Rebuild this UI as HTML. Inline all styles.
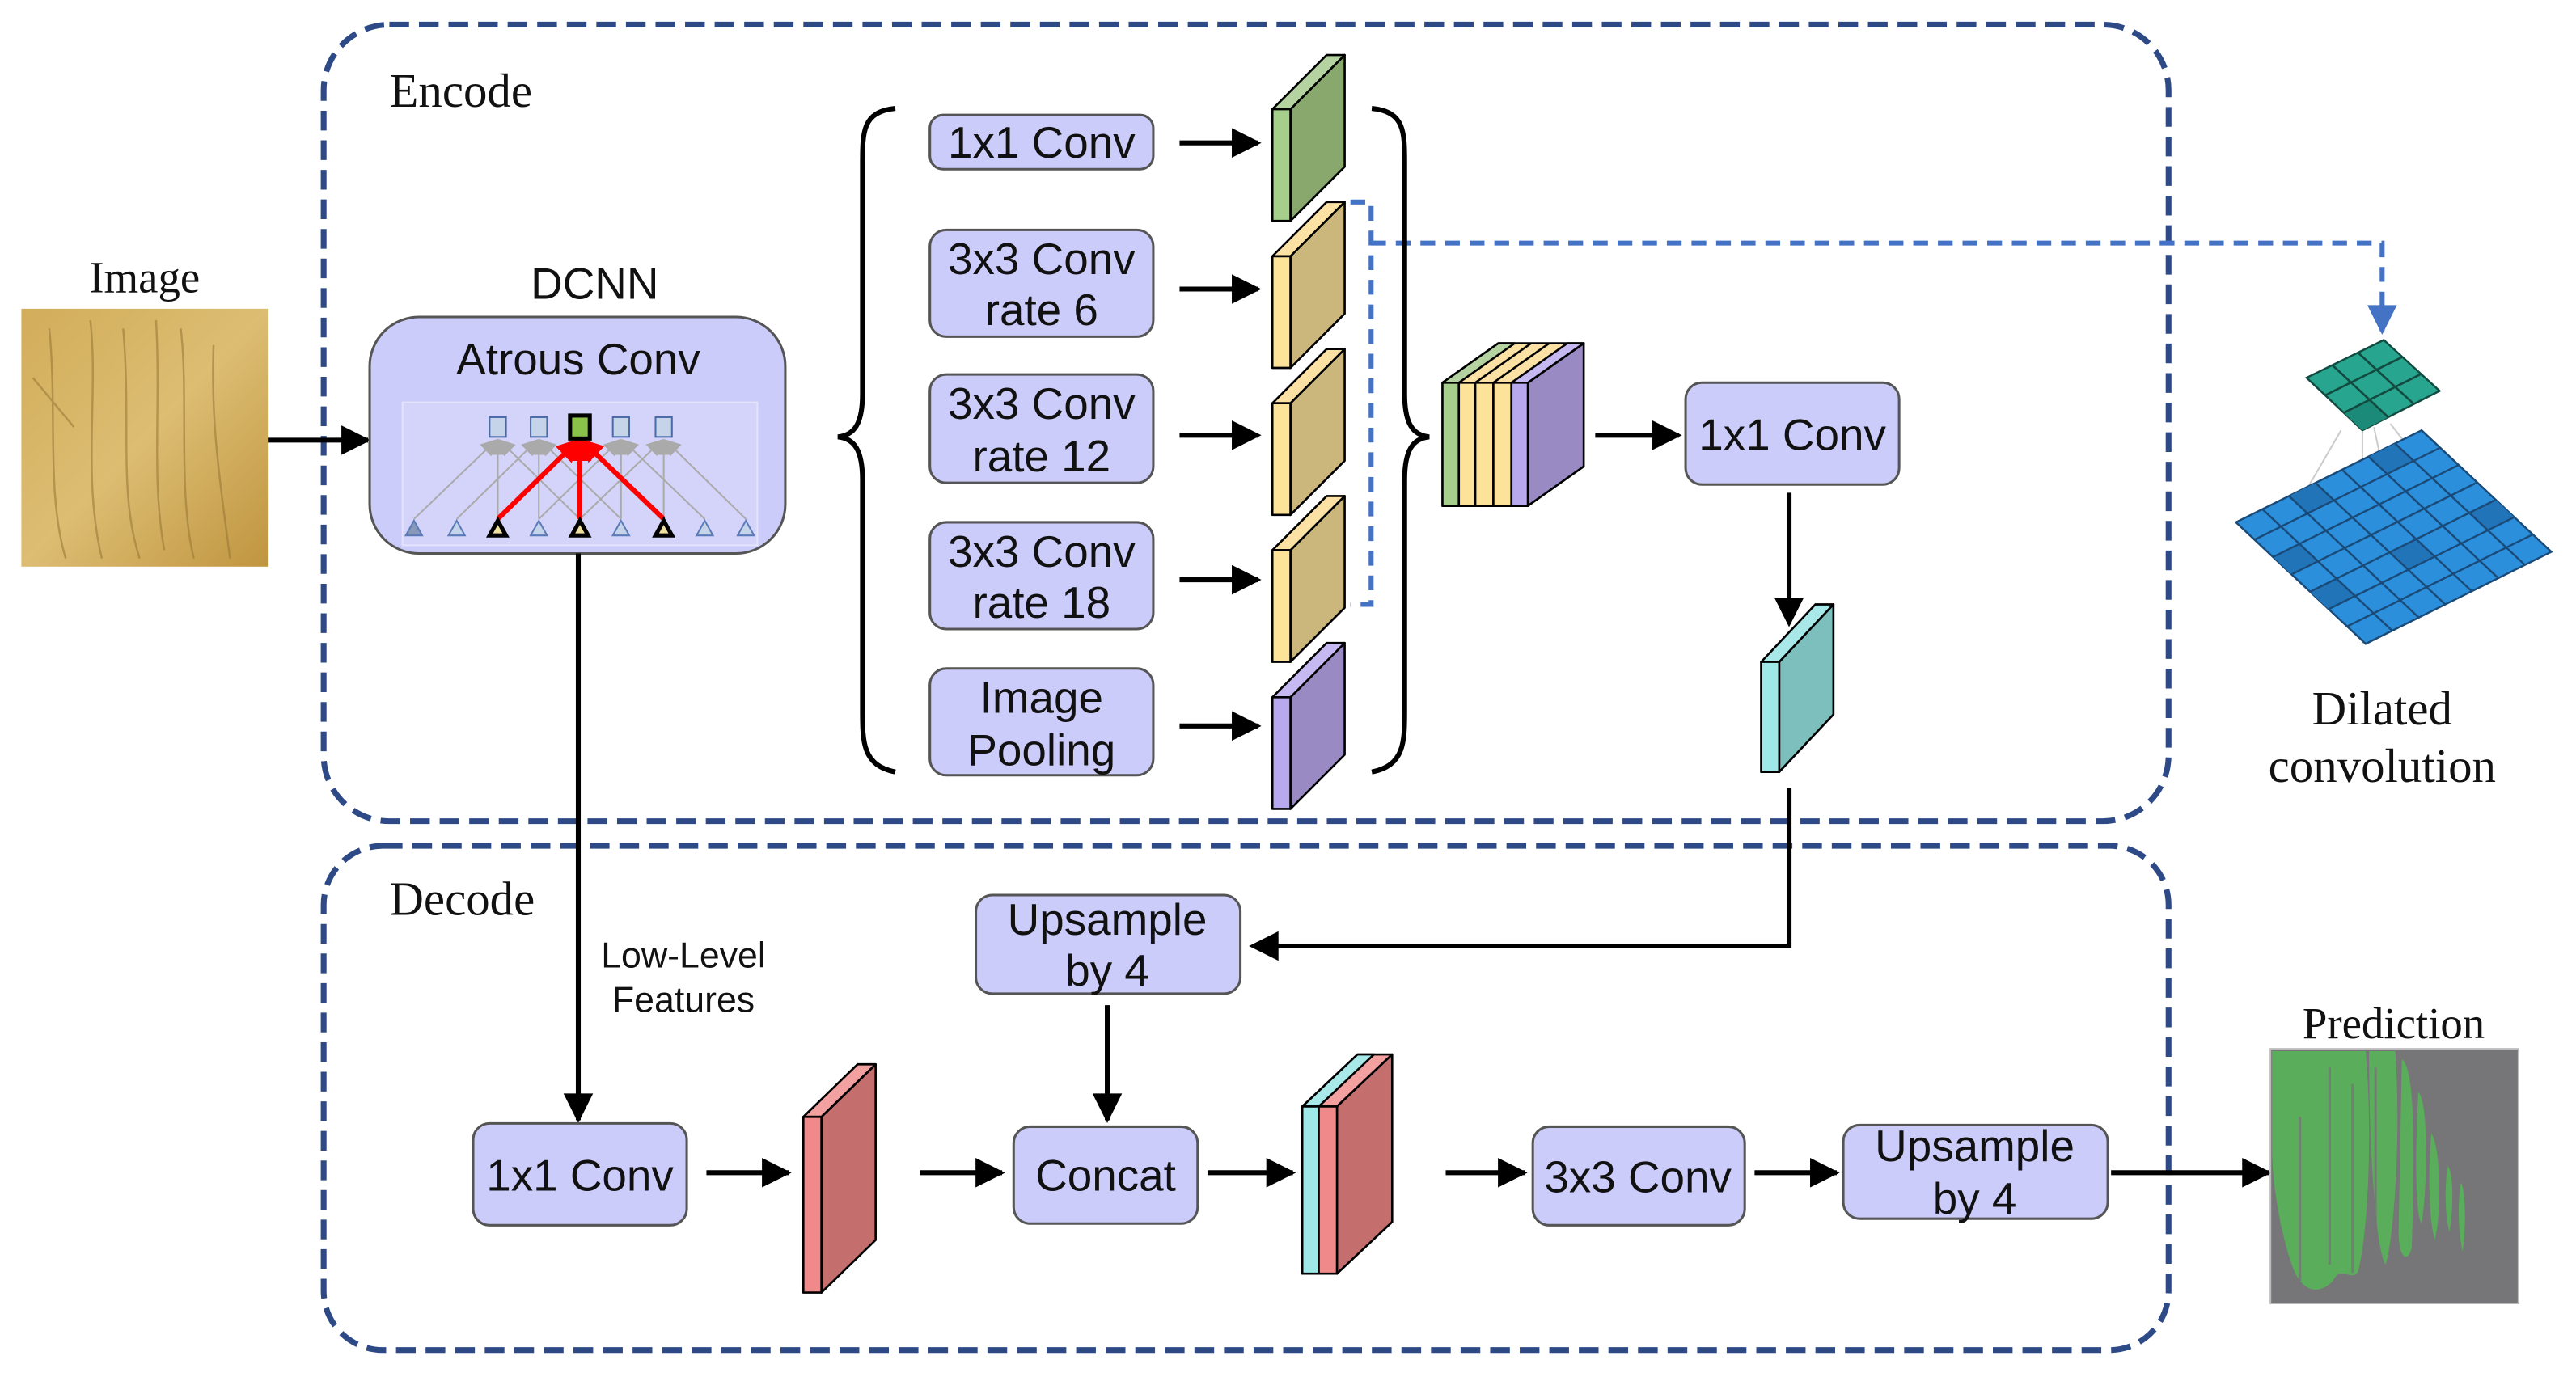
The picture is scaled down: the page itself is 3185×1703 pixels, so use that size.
<!DOCTYPE html>
<html><head><meta charset="utf-8"><style>
html,body{margin:0;padding:0;background:#fff;}
svg{display:block;}
.s{font-family:"Liberation Sans",sans-serif;fill:#111;}
.r{font-family:"Liberation Serif",serif;fill:#111;}
</style></head><body>
<svg width="3185" height="1703" viewBox="0 0 1568 838.4" preserveAspectRatio="none" xmlns="http://www.w3.org/2000/svg">
<defs>
<marker id="ah" viewBox="0 0 10 10" markerWidth="22" markerHeight="18" refX="9" refY="5" orient="auto" markerUnits="userSpaceOnUse"><path d="M0,0 L10,5 L0,10 Z" fill="#000"/></marker>
<marker id="bh" viewBox="0 0 10 10" markerWidth="20" markerHeight="18" refX="9" refY="5" orient="auto" markerUnits="userSpaceOnUse"><path d="M0,0 L10,5 L0,10 Z" fill="#4472c4"/></marker>
<marker id="gh" viewBox="0 0 10 10" markerWidth="10" markerHeight="10" refX="9" refY="5" orient="auto" markerUnits="userSpaceOnUse"><path d="M0,0 L10,5 L0,10 Z" fill="#aaa"/></marker>
<marker id="rh" viewBox="0 0 10 10" markerWidth="14" markerHeight="14" refX="9" refY="5" orient="auto" markerUnits="userSpaceOnUse"><path d="M0,0 L10,5 L0,10 Z" fill="#f00"/></marker>
<linearGradient id="gold" x1="0" y1="0" x2="1" y2="1">
<stop offset="0" stop-color="#d2ad5a"/><stop offset="0.5" stop-color="#dcbd72"/><stop offset="1" stop-color="#c09540"/></linearGradient>
</defs>

<rect x="197" y="15" width="1123" height="485" rx="40" fill="none" stroke="#2e4a86" stroke-width="3.5" stroke-dasharray="12,6"/>
<rect x="197" y="515" width="1123" height="307" rx="36" fill="none" stroke="#2e4a86" stroke-width="3.5" stroke-dasharray="12,6"/>
<text class="r" x="237" y="65" font-size="29">Encode</text>
<text class="r" x="237" y="557" font-size="29">Decode</text>

<text class="r" x="88" y="178" font-size="27" text-anchor="middle">Image</text>
<rect x="13" y="188" width="150" height="157" fill="url(#gold)"/>
<g stroke="#9a7a38" stroke-width="1.2" fill="none" opacity="0.6">
<path d="M30,200 C35,250 28,300 40,340"/><path d="M55,195 C60,240 50,290 62,340"/><path d="M75,200 C80,260 72,300 85,340"/>
<path d="M95,195 C98,250 92,290 100,335"/><path d="M110,200 C115,240 108,300 118,340"/><path d="M20,230 L45,260"/><path d="M130,210 C128,260 135,300 140,340"/>
</g>
<line x1="163" y1="268" x2="224" y2="268" stroke="#000" stroke-width="3" marker-end="url(#ah)"/>

<text class="s" x="362" y="182" font-size="27" text-anchor="middle">DCNN</text>
<rect x="225" y="193" width="253" height="144" rx="30" fill="#ccccfa" stroke="#555" stroke-width="1.5"/>
<text class="s" x="352" y="228" font-size="27" text-anchor="middle">Atrous Conv</text>
<rect x="245" y="245" width="216" height="87" fill="#d4d4fb" stroke="#e4e4fc" stroke-width="1"/>
<g stroke="#aaa" stroke-width="1" marker-end="url(#gh)">
<line x1="252" y1="316" x2="302" y2="268"/><line x1="303" y1="316" x2="303" y2="268"/><line x1="353" y1="316" x2="304" y2="268"/>
<line x1="278" y1="316" x2="327" y2="268"/><line x1="328" y1="316" x2="328" y2="268"/><line x1="378" y1="316" x2="329" y2="268"/>
<line x1="328" y1="316" x2="377" y2="268"/><line x1="378" y1="316" x2="378" y2="268"/><line x1="429" y1="316" x2="379" y2="268"/>
<line x1="353" y1="316" x2="403" y2="268"/><line x1="404" y1="316" x2="404" y2="268"/><line x1="454" y1="316" x2="405" y2="268"/>
</g>
<g stroke="#f00" stroke-width="3" marker-end="url(#rh)">
<line x1="303" y1="316" x2="352" y2="268"/><line x1="353" y1="316" x2="353" y2="268"/><line x1="404" y1="316" x2="354" y2="268"/>
</g>
<g fill="#c6d4ea" stroke="#4a6aa8" stroke-width="1">
<rect x="298" y="254" width="10" height="12"/><rect x="323" y="254" width="10" height="12"/><rect x="373" y="254" width="10" height="12"/><rect x="399" y="254" width="10" height="12"/>
</g>
<rect x="347" y="253" width="12" height="14" fill="#8bc34a" stroke="#000" stroke-width="2.5"/>
<g fill="#c6d4ea" stroke="#5a7ab8" stroke-width="1">
<path d="M252,317 l-5,9 h10z" fill="#8898b8"/><path d="M278,317 l-5,9 h10z"/><path d="M328,317 l-5,9 h10z"/><path d="M378,317 l-5,9 h10z"/><path d="M429,317 l-5,9 h10z"/><path d="M454,317 l-5,9 h10z"/>
</g>
<g fill="#f0e0a0" stroke="#000" stroke-width="2.5">
<path d="M303,317 l-5,9 h10z"/><path d="M353,317 l-5,9 h10z"/><path d="M404,317 l-5,9 h10z"/>
</g>

<line x1="352" y1="337" x2="352" y2="682" stroke="#000" stroke-width="3" marker-end="url(#ah)"/>
<text class="s" x="416" y="589" font-size="22" text-anchor="middle" fill="#223">Low-Level</text>
<text class="s" x="416" y="616" font-size="22" text-anchor="middle" fill="#223">Features</text>

<path d="M545,66 C525,68 525,80 525,100 L525,240 C525,258 520,265 510,266 C520,267 525,274 525,292 L525,432 C525,452 525,466 545,470" fill="none" stroke="#000" stroke-width="3"/>

<g fill="#ccccfa" stroke="#555" stroke-width="1.5">
<rect x="566" y="70" width="136" height="33" rx="8"/>
<rect x="566" y="140" width="136" height="65" rx="10"/>
<rect x="566" y="228" width="136" height="66" rx="10"/>
<rect x="566" y="318" width="136" height="65" rx="10"/>
<rect x="566" y="407" width="136" height="65" rx="10"/>
</g>
<g class="s" font-size="27" text-anchor="middle">
<text x="634" y="96">1x1 Conv</text>
<text x="634" y="167">3x3 Conv</text><text x="634" y="198">rate 6</text>
<text x="634" y="255">3x3 Conv</text><text x="634" y="287">rate 12</text>
<text x="634" y="345">3x3 Conv</text><text x="634" y="376">rate 18</text>
<text x="634" y="434">Image</text><text x="634" y="466">Pooling</text>
</g>
<g stroke="#000" stroke-width="3" marker-end="url(#ah)">
<line x1="718" y1="87" x2="766" y2="87"/><line x1="718" y1="176" x2="766" y2="176"/><line x1="718" y1="265" x2="766" y2="265"/><line x1="718" y1="353" x2="766" y2="353"/><line x1="718" y1="442" x2="766" y2="442"/>
</g>

<g stroke="#000" stroke-width="1.3" stroke-linejoin="round">
<g>
<path d="M785.5,66.5 l33,-33 v68 l-33,33z" fill="#89a86e"/><path d="M774.5,66.5 l33,-33 h11 l-33,33z" fill="#b5d3a0"/><rect x="774.5" y="66.5" width="11" height="68" fill="#a6cf8c"/>
</g>
<g transform="translate(0,89.5)">
<path d="M785.5,66.5 l33,-33 v68 l-33,33z" fill="#cbb77c"/><path d="M774.5,66.5 l33,-33 h11 l-33,33z" fill="#fbe2a4"/><rect x="774.5" y="66.5" width="11" height="68" fill="#fde29a"/>
</g>
<g transform="translate(0,179)">
<path d="M785.5,66.5 l33,-33 v68 l-33,33z" fill="#cbb77c"/><path d="M774.5,66.5 l33,-33 h11 l-33,33z" fill="#fbe2a4"/><rect x="774.5" y="66.5" width="11" height="68" fill="#fde29a"/>
</g>
<g transform="translate(0,268.5)">
<path d="M785.5,66.5 l33,-33 v68 l-33,33z" fill="#cbb77c"/><path d="M774.5,66.5 l33,-33 h11 l-33,33z" fill="#fbe2a4"/><rect x="774.5" y="66.5" width="11" height="68" fill="#fde29a"/>
</g>
<g transform="translate(0,358)">
<path d="M785.5,66.5 l33,-33 v68 l-33,33z" fill="#9a8ac4"/><path d="M774.5,66.5 l33,-33 h11 l-33,33z" fill="#c6b8f0"/><rect x="774.5" y="66.5" width="11" height="68" fill="#b8a8ee"/>
</g>
</g>

<path d="M822,123 H834.6 V368 H822" fill="none" stroke="#4472c4" stroke-width="3" stroke-dasharray="9,6"/>
<path d="M834.6,148 H1450 V202" fill="none" stroke="#4472c4" stroke-width="3" stroke-dasharray="9,6" marker-end="url(#bh)"/>

<path d="M835,66 C855,68 855,80 855,100 L855,240 C855,258 860,265 870,266 C860,267 855,274 855,292 L855,432 C855,452 855,466 835,470" fill="none" stroke="#000" stroke-width="3"/>

<g stroke="#000" stroke-width="1.3" stroke-linejoin="round">
<path d="M930,233 l34,-24 v75 l-34,24z" fill="#9a8ac4"/>
<path d="M878,233 l34,-24 h52 l-34,24z" fill="#fbe2a4"/>
<path d="M878,233 l34,-24 h10 l-34,24z" fill="#b5d3a0"/>
<path d="M920,233 l34,-24 h10 l-34,24z" fill="#c6b8f0"/>
<line x1="898" y1="233" x2="932" y2="209"/><line x1="909" y1="233" x2="943" y2="209"/>
<rect x="878" y="233" width="10" height="75" fill="#a6cf8c"/>
<rect x="888" y="233" width="10" height="75" fill="#fde29a"/>
<rect x="898" y="233" width="11" height="75" fill="#fde29a"/>
<rect x="909" y="233" width="11" height="75" fill="#fde29a"/>
<rect x="920" y="233" width="10" height="75" fill="#b8a8ee"/>
</g>
<line x1="971" y1="265" x2="1022" y2="265" stroke="#000" stroke-width="3" marker-end="url(#ah)"/>
<rect x="1026" y="233" width="130" height="62" rx="10" fill="#ccccfa" stroke="#555" stroke-width="1.5"/>
<text class="s" x="1091" y="274" font-size="27" text-anchor="middle">1x1 Conv</text>
<line x1="1089" y1="300" x2="1089" y2="380" stroke="#000" stroke-width="3" marker-end="url(#ah)"/>

<g stroke="#000" stroke-width="1.3" stroke-linejoin="round">
<path d="M1083,403 l33,-35 v67 l-33,35z" fill="#7cbfbd"/>
<path d="M1072,403 l33,-35 h11 l-33,35z" fill="#a8e8e8"/>
<rect x="1072" y="403" width="11" height="67" fill="#9ee8e8"/>
</g>

<path d="M1089,480 V576 H762" fill="none" stroke="#000" stroke-width="3" marker-end="url(#ah)"/>
<rect x="594" y="545" width="161" height="60" rx="10" fill="#ccccfa" stroke="#555" stroke-width="1.5"/>
<text class="s" x="674" y="569" font-size="27" text-anchor="middle">Upsample</text>
<text class="s" x="674" y="600" font-size="27" text-anchor="middle">by 4</text>
<line x1="674" y1="612" x2="674" y2="682" stroke="#000" stroke-width="3" marker-end="url(#ah)"/>

<rect x="288" y="684" width="130" height="62" rx="10" fill="#ccccfa" stroke="#555" stroke-width="1.5"/>
<text class="s" x="353" y="725" font-size="27" text-anchor="middle">1x1 Conv</text>
<g stroke="#000" stroke-width="3" marker-end="url(#ah)">
<line x1="430" y1="714" x2="480" y2="714"/>
<line x1="560" y1="714" x2="610" y2="714"/>
<line x1="735" y1="714" x2="787" y2="714"/>
<line x1="880" y1="714" x2="928" y2="714"/>
<line x1="1068" y1="714" x2="1118" y2="714"/>
<line x1="1285" y1="714" x2="1381" y2="714"/>
</g>
<g stroke="#000" stroke-width="1.3" stroke-linejoin="round">
<path d="M500,680 l33,-32 v107 l-33,32z" fill="#c46e6e"/>
<path d="M489,680 l33,-32 h11 l-33,32z" fill="#f2a0a0"/>
<rect x="489" y="680" width="11" height="107" fill="#f08a8a"/>
</g>
<rect x="617" y="686" width="112" height="59" rx="10" fill="#ccccfa" stroke="#555" stroke-width="1.5"/>
<text class="s" x="673" y="725" font-size="27" text-anchor="middle">Concat</text>
<g stroke="#000" stroke-width="1.3" stroke-linejoin="round">
<path d="M813.8,673.7 l33.6,-31.7 v102 l-33.6,31.5z" fill="#c46e6e"/>
<path d="M792.7,673.7 l33.6,-31.7 h21 l-33.6,31.7z" fill="#f2a0a0"/>
<path d="M792.7,673.7 l33.6,-31.7 h10 l-33.6,31.7z" fill="#a8e8e8"/>
<rect x="792.7" y="673.7" width="10" height="101.8" fill="#9ee8e8"/>
<rect x="802.7" y="673.7" width="11.1" height="101.8" fill="#f08a8a"/>
</g>
<rect x="933" y="686" width="129" height="60" rx="10" fill="#ccccfa" stroke="#555" stroke-width="1.5"/>
<text class="s" x="997" y="726" font-size="27" text-anchor="middle">3x3 Conv</text>
<rect x="1122" y="685" width="161" height="57" rx="10" fill="#ccccfa" stroke="#555" stroke-width="1.5"/>
<text class="s" x="1202" y="707" font-size="27" text-anchor="middle">Upsample</text>
<text class="s" x="1202" y="739" font-size="27" text-anchor="middle">by 4</text>

<text class="r" x="1457" y="632" font-size="27" text-anchor="middle">Prediction</text>
<rect x="1382" y="638.6" width="151" height="155" fill="#767577" stroke="#bbb" stroke-width="1"/>
<g fill="#5aad5a">
<path d="M1383,640 H1440 C1445,700 1440,760 1435,775 C1430,780 1425,770 1420,780 C1410,790 1400,785 1395,770 C1388,750 1383,720 1383,700Z"/>
<path d="M1442,640 H1458 C1462,700 1456,760 1452,770 C1446,760 1442,700 1442,640Z"/>
<path d="M1462,645 C1470,650 1470,700 1468,760 C1465,770 1460,765 1460,750Z"/>
<path d="M1472,665 C1478,670 1478,720 1474,745 C1470,740 1470,700 1472,665Z"/>
<path d="M1480,690 C1486,700 1486,740 1482,755 C1478,740 1478,710 1480,690Z"/>
<path d="M1490,710 C1494,715 1493,740 1491,750 C1488,740 1488,720 1490,710Z"/>
<path d="M1498,720 C1501,725 1501,750 1499,762 C1496,750 1496,730 1498,720Z"/>
</g>
<g stroke="#767577" stroke-width="1.5" fill="none" opacity="0.8">
<path d="M1400,680 V780"/><path d="M1418,650 V770"/><path d="M1432,660 V775"/><path d="M1446,650 V760"/>
</g>

<g stroke="#ccc" stroke-width="1">
<line x1="1425" y1="262" x2="1400" y2="305"/><line x1="1438" y1="262" x2="1438" y2="392"/><line x1="1445" y1="260" x2="1460" y2="330"/><line x1="1455" y1="258" x2="1480" y2="290"/>
</g>
<polygon points="1474,262 1553,336 1440,392 1361,318" fill="#2b8fdc" stroke="#1a4a78" stroke-width="1.2"/>
<g fill="#2274b8">
<polygon points="1393.3,302 1409.4,294 1420.7,304.6 1404.6,312.6"/>
<polygon points="1441.7,278 1457.9,270 1469.2,280.6 1453,288.6"/>
<polygon points="1406.1,360.3 1422.3,352.3 1433.6,362.9 1417.4,370.9"/>
<polygon points="1454.5,336.3 1470.7,328.3 1482,338.9 1465.8,346.9"/>
<polygon points="1502.9,312.3 1519.1,304.3 1530.4,314.9 1514.2,322.9"/>
<polygon points="1383.6,339.1 1399.7,331.1 1411,341.7 1394.9,349.7"/>
</g>
<g stroke="#1a4a78" stroke-width="1.2">
<line x1="1377.1" y1="310" x2="1456.1" y2="384"/><line x1="1393.3" y1="302" x2="1472.3" y2="376"/><line x1="1409.4" y1="294" x2="1488.4" y2="368"/>
<line x1="1425.6" y1="286" x2="1504.6" y2="360"/><line x1="1441.7" y1="278" x2="1520.7" y2="352"/><line x1="1457.9" y1="270" x2="1536.9" y2="344"/>
<line x1="1372.3" y1="328.6" x2="1485.3" y2="272.6"/><line x1="1383.6" y1="339.1" x2="1496.6" y2="283.1"/><line x1="1394.9" y1="349.7" x2="1507.9" y2="293.7"/>
<line x1="1406.1" y1="360.3" x2="1519.1" y2="304.3"/><line x1="1417.4" y1="370.9" x2="1530.4" y2="314.9"/><line x1="1428.7" y1="381.4" x2="1541.7" y2="325.4"/>
</g>
<polygon points="1451,207 1485,238 1438,262 1404,230" fill="#27a58f" stroke="#124a40" stroke-width="1.2"/>
<polygon points="1426.7,251.3 1442.3,243.7 1453.7,254 1438,262" fill="#1c8a78"/>
<g stroke="#124a40" stroke-width="1.3">
<line x1="1419.7" y1="222.3" x2="1453.7" y2="254"/><line x1="1435.3" y1="214.7" x2="1469.3" y2="246"/>
<line x1="1415.3" y1="240.7" x2="1462.3" y2="217.3"/><line x1="1426.7" y1="251.3" x2="1473.7" y2="227.7"/>
</g>
<text class="r" x="1450" y="441" font-size="29" text-anchor="middle">Dilated</text>
<text class="r" x="1450" y="476" font-size="29" text-anchor="middle">convolution</text>
</svg>
</body></html>
